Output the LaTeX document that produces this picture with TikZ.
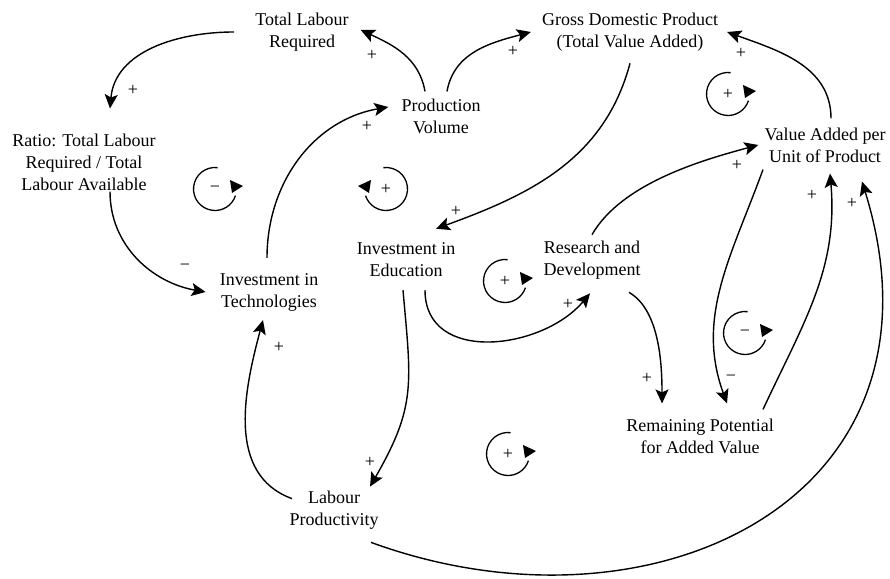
\documentclass[tikz,border=0pt]{standalone}
\usepackage{fontspec}
\setmainfont{Liberation Serif}
\usepackage{tikz}
\usetikzlibrary{arrows.meta, positioning}

\tikzstyle{varnode}  = [align=center, inner sep=2pt, font=\fontsize{18}{22}\selectfont]
\tikzstyle{polarity} = [inner sep=1pt, font=\fontsize{18}{22}\selectfont]
\tikzstyle{link}     = [line width=1.4pt, -{Stealth[length=14pt,width=13pt,inset=3pt]}]
\tikzstyle{loopline} = [line width=1.3pt]

% loop marker, arrow on the right
\newcommand{\loopright}[3]{%
\node[polarity] (#1) at #2 {#3};
\draw[loopline] (#1.center) ++(83:21.5) arc[start angle=83, end angle=342, radius=21.5];
\fill (#1.center) ++(15,9) -- ++(13,-6) -- ++(-11,-7) -- cycle;
}
% loop marker, arrow on the left
\newcommand{\loopleft}[3]{%
\node[polarity] (#1) at #2 {#3};
\draw[loopline] (#1.center) ++(97:21.5) arc[start angle=97, end angle=-162, radius=21.5];
\fill (#1.center) ++(-15,9) -- ++(-13,-6) -- ++(11,-7) -- cycle;
}

\begin{document}
\begin{tikzpicture}[x=1pt,y=1pt]

\useasboundingbox (0,0) rectangle (890,578);

\node[varnode] (TLR)  at (302,546) {Total Labour\\Required};
\node[varnode] (GDP)  at (630,546) {Gross Domestic Product\\(Total Value Added)};
\node[varnode] (PV)   at (441,462) {Production\\Volume};
\node[varnode] (RATIO) at (84,416) {Ratio: Total Labour\\Required / Total\\Labour Available};
\node[varnode] (VAU)  at (825,433) {Value Added per\\Unit of Product};
\node[varnode] (IE)   at (406,318) {Investment in\\Education};
\node[varnode] (RD)   at (592,318) {Research and\\Development};
\node[varnode] (IT)   at (269,286) {Investment in\\Technologies};
\node[varnode] (RPAV) at (700,142) {Remaining Potential\\for Added Value};
\node[varnode] (LP)   at (334,68)  {Labour\\Productivity};

\draw[link] ([shift={(-16,5)}]PV.north) to[out=100,in=-25] ([shift={(10,2)}]TLR.east);
\draw[link] ([xshift=-19]TLR.west) to[out=180,in=85] ([shift={(26,23)}]RATIO.north);
\draw[link] ([shift={(26,1)}]RATIO.south) to[out=270,in=170] ([xshift=-12]IT.west);
\draw[link] ([shift={(-2,13)}]IT.north) to[out=90,in=190] ([shift={(-11,9)}]PV.west);
\draw[link] ([shift={(6,5)}]PV.north) to[out=80,in=195] ([xshift=-9]GDP.west);
\draw[link] ([yshift=-10]GDP.south) to[out=255,in=20] ([shift={(30,12)}]IE.north);
\draw[link] ([shift={(6,7)}]VAU.north) to[out=90,in=-20] ([xshift=7]GDP.east);
\draw[link] ([yshift=4]RD.north) to[out=60,in=-165,looseness=0.8] ([xshift=-4]VAU.west);
\draw[link] ([shift={(19,-11)}]IE.south) to[out=270,in=230,looseness=1.15] ([shift={(-2,-12)}]RD.south);
\draw[link] ([shift={(37,-11)}]RD.south) to[out=-30,in=90,looseness=0.8] ([shift={(-38,13)}]RPAV.north);
\draw[link] ([shift={(-62,-5)}]VAU.south) to[out=250,in=110] ([shift={(27,13)}]RPAV.north);
\draw[link] ([shift={(63,7)}]RPAV.north) to[out=65,in=-85] ([shift={(5,-9)}]VAU.south);
\draw[link] ([shift={(37,-11)}]LP.south) .. controls +(282,-103) and +(98,-317) .. ([shift={(37,-17)}]VAU.south);
\draw[link] ([shift={(-3,-11)}]IE.south) to[out=-85,in=60,looseness=1.2] ([shift={(36,2)}]LP.north);
\draw[link] ([shift={(-42,-10)}]LP.north) to[out=160,in=-105] ([shift={(-6,-7)}]IT.south);

% link polarities
\node[polarity] (SA) at (372,523) {+};
\node[polarity] (SB) at (133,488) {+};
\node[polarity] (SC) at (185,311) {−};
\node[polarity] (SD) at (367,452) {+};
\node[polarity] (SE) at (513,527) {+};
\node[polarity] (SF) at (456,367) {+};
\node[polarity] (SG) at (741,525) {+};
\node[polarity] (SH) at (737,413) {+};
\node[polarity] (SI) at (568,274) {+};
\node[polarity] (SJ) at (647,200) {+};
\node[polarity] (SK) at (731,200) {−};
\node[polarity] (SL) at (812,383) {+};
\node[polarity] (SM) at (852,375) {+};
\node[polarity] (SN) at (370,116) {+};
\node[polarity] (SO) at (279,231) {+};

% loops
\loopright{L1}{(215,389)}{−}
\loopleft{L2}{(386,389)}{+}
\loopright{L3}{(728,484)}{+}
\loopright{L4}{(505,297)}{+}
\loopright{L5}{(745,245)}{−}
\loopright{L6}{(508,124)}{+}

\end{tikzpicture}
\end{document}
